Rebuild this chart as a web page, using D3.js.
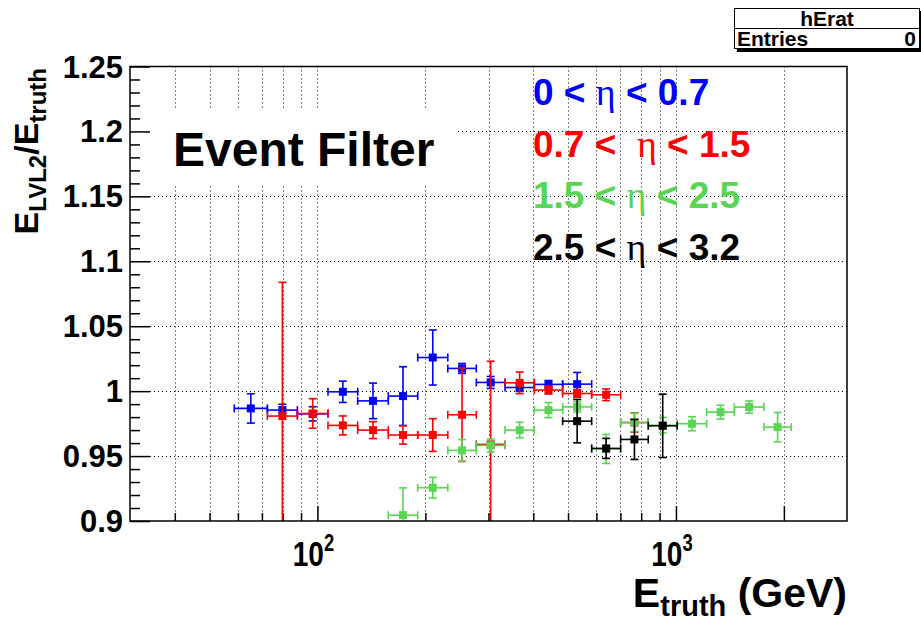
<!DOCTYPE html>
<html>
<head>
<meta charset="utf-8">
<script src="https://cdn.jsdelivr.net/npm/d3@7"></script>
<style>
  html, body { margin: 0; padding: 0; background: #fff; }
  svg { display: block; }
  text { font-family: "Liberation Sans", Arial, Helvetica, sans-serif; font-weight: bold; }
</style>
</head>
<body>
<svg id="chart" width="921" height="621"></svg>
<script>
// Energy bin edges (GeV), shared by all eta ranges
const binEdges = [58.6, 72.5, 87.9, 107, 129.5, 157.6, 190.4, 231, 277.4, 333.6,
                  402.7, 483, 582, 701, 837, 1008, 1218, 1455, 1760, 2097];

// 0 < eta < 0.7 : bins 0..11
const eta1FirstBin = 0;
const eta1Values = [0.9867, 0.9854, 0.9825, 0.9995, 0.9925, 0.9962, 1.0259, 1.0175, 1.0067, 1.0028, 1.0052, 1.0054];
const eta1Errors = [0.0113, 0.0045, 0.0055, 0.0082, 0.0137, 0.0226, 0.0212, 0.0038, 0.0046, 0.0030, 0.0030, 0.0090];

// 0.7 < eta < 1.5 : bins 1..13
const eta2FirstBin = 1;
const eta2Values = [0.9808, 0.9828, 0.9736, 0.9700, 0.9662, 0.9662, 0.9818, 0.9590, 1.0064, 1.0008, 0.9982, 0.9972, 0.9758];
const eta2Errors = [0.1030, 0.0114, 0.0073, 0.0065, 0.0070, 0.0126, 0.0360, 0.0640, 0.0083, 0.0030, 0.0030, 0.0045, 0.0074];

// 1.5 < eta < 2.5 : bins 5..18
const eta3FirstBin = 5;
const eta3Values = [0.9045, 0.9256, 0.9544, 0.9582, 0.9700, 0.9854, 0.9879, 0.9555, 0.9759, 0.9738, 0.9749, 0.9838, 0.9877, 0.9723];
const eta3Errors = [0.0210, 0.0080, 0.0083, 0.0050, 0.0060, 0.0058, 0.0040, 0.0112, 0.0070, 0.0060, 0.0054, 0.0053, 0.0047, 0.0113];

// 2.5 < eta < 3.2 : bins 11..14
const eta4FirstBin = 11;
const eta4Values = [0.9769, 0.9559, 0.9628, 0.9733];
const eta4Errors = [0.0167, 0.0077, 0.0154, 0.0244];

const seriesLabels = ["0 < ", "0.7 <  ", "1.5 < ", "2.5 < "];
const seriesLabelTails = [" < 0.7", " < 1.5", " < 2.5", " < 3.2"];
const seriesColors = ["#0000ff", "#ff0000", "#59d454", "#000000"];

const xDomain = [30, 3000];
const yDomain = [0.9, 1.25];
const yTickValues = [0.9, 0.95, 1.0, 1.05, 1.1, 1.15, 1.2, 1.25];
const yTickLabels = ["0.9", "0.95", "1", "1.05", "1.1", "1.15", "1.2", "1.25"];
const xMinorTicks = [40, 50, 60, 70, 80, 90, 200, 300, 400, 500, 600, 700, 800, 900];
const xMajorTicks = [100, 1000, 2000];
const xLabelTicks = [100, 1000];
const xLabelExponents = ["2", "3"];

const svg = d3.select("#chart");
const frame = { left: 130, right: 847, top: 66.5, bottom: 521 };

const x = d3.scaleLog().domain(xDomain).range([frame.left, frame.right]);
const y = d3.scaleLinear().domain(yDomain).range([frame.bottom, frame.top]);

svg.append("rect").attr("width", 921).attr("height", 621).attr("fill", "#fff");

svg.append("defs").append("clipPath").attr("id", "frameClip")
  .append("rect")
  .attr("x", frame.left).attr("y", frame.top)
  .attr("width", frame.right - frame.left).attr("height", frame.bottom - frame.top);

// dotted grid
const grid = svg.append("g").attr("stroke", "#000").attr("stroke-width", 1)
  .attr("stroke-dasharray", "1,3").attr("fill", "none");
xMinorTicks.concat(xMajorTicks).forEach(v => {
  const px = Math.round(x(v)) + 0.5;
  grid.append("line").attr("x1", px).attr("x2", px).attr("y1", frame.top).attr("y2", frame.bottom);
});
yTickValues.slice(1, -1).forEach(v => {
  const py = Math.round(y(v)) + 0.5;
  grid.append("line").attr("x1", frame.left).attr("x2", frame.right).attr("y1", py).attr("y2", py);
});

// white pave behind the title
svg.append("rect").attr("x", 133).attr("y", 110).attr("width", 324).attr("height", 75).attr("fill", "#fff");
svg.append("text").attr("x", 173).attr("y", 166).attr("font-size", 48).attr("fill", "#000").text("Event Filter");

// axis ticks, drawn with d3 axes and then pointed inwards
const yAxis = d3.axisLeft(y).tickValues(d3.range(0.9, 1.2501, 0.01)).tickSizeInner(-10).tickSizeOuter(0).tickFormat("");
const yAxisG = svg.append("g").attr("transform", `translate(${frame.left},0)`).call(yAxis);
yAxisG.select(".domain").remove();
yAxisG.selectAll(".tick line").attr("stroke", "#000").attr("stroke-width", 1.5)
  .attr("x2", d => (Math.abs(d * 20 - Math.round(d * 20)) < 1e-6) ? 20 : 10);

const xAxis = d3.axisBottom(x).tickValues(xMinorTicks.concat(xMajorTicks)).tickSizeInner(-8).tickSizeOuter(0).tickFormat("");
const xAxisG = svg.append("g").attr("transform", `translate(0,${frame.bottom})`).call(xAxis);
xAxisG.select(".domain").remove();
xAxisG.selectAll(".tick line").attr("stroke", "#000").attr("stroke-width", 1.5)
  .attr("y2", d => xMajorTicks.includes(d) ? -15 : -8);

// y tick labels
yTickValues.forEach((v, i) => {
  svg.append("text").attr("x", 123).attr("y", y(v) + 11).attr("text-anchor", "end")
    .attr("font-size", 31).attr("fill", "#000").text(yTickLabels[i]);
});

// x tick labels as powers of ten (condensed face)
xLabelTicks.forEach((v, i) => {
  const cx = x(v) - 4;
  const t = svg.append("text").attr("transform", `translate(${cx},566) scale(0.8,1)`)
    .attr("text-anchor", "middle").attr("font-size", 35).attr("fill", "#000");
  t.append("tspan").text("10");
  t.append("tspan").attr("font-size", 23).attr("dy", -15).text(xLabelExponents[i]);
});

// axis titles
const xt = svg.append("text").attr("x", frame.right).attr("y", 607).attr("text-anchor", "end")
  .attr("font-size", 41).attr("fill", "#000");
xt.append("tspan").text("E");
xt.append("tspan").attr("font-size", 29).attr("dy", 9).text("truth");
xt.append("tspan").attr("dy", -9).text(" (GeV)");

const yt = svg.append("text").attr("transform", `translate(38,68) rotate(-90)`).attr("text-anchor", "end")
  .attr("font-size", 34).attr("fill", "#000");
yt.append("tspan").text("E");
yt.append("tspan").attr("font-size", 24).attr("dy", 8).text("LVL2");
yt.append("tspan").attr("dy", -8).text("/E");
yt.append("tspan").attr("font-size", 24).attr("dy", 8).text("truth");

// data points with error bars
const series = [
  { first: eta1FirstBin, values: eta1Values, errors: eta1Errors },
  { first: eta2FirstBin, values: eta2Values, errors: eta2Errors },
  { first: eta3FirstBin, values: eta3Values, errors: eta3Errors },
  { first: eta4FirstBin, values: eta4Values, errors: eta4Errors }
];
const plot = svg.append("g").attr("clip-path", "url(#frameClip)");
series.forEach((s, si) => {
  const color = seriesColors[si];
  const pts = s.values.map((v, i) => {
    const b = s.first + i;
    const lo = binEdges[b], hi = binEdges[b + 1];
    return { lo, hi, c: Math.sqrt(lo * hi), v, e: s.errors[i] };
  });
  const g = plot.append("g").attr("stroke", color).attr("stroke-width", 1.6).attr("fill", "none");
  const pg = g.selectAll("g").data(pts).join("g");
  const cap = 4;
  pg.append("line").attr("x1", d => x(d.c)).attr("x2", d => x(d.c)).attr("y1", d => y(d.v - d.e)).attr("y2", d => y(d.v + d.e));
  pg.append("line").attr("x1", d => x(d.lo)).attr("x2", d => x(d.hi)).attr("y1", d => y(d.v)).attr("y2", d => y(d.v));
  pg.append("line").attr("x1", d => x(d.c) - cap).attr("x2", d => x(d.c) + cap).attr("y1", d => y(d.v + d.e)).attr("y2", d => y(d.v + d.e));
  pg.append("line").attr("x1", d => x(d.c) - cap).attr("x2", d => x(d.c) + cap).attr("y1", d => y(d.v - d.e)).attr("y2", d => y(d.v - d.e));
  pg.append("line").attr("x1", d => x(d.lo)).attr("x2", d => x(d.lo)).attr("y1", d => y(d.v) - cap).attr("y2", d => y(d.v) + cap);
  pg.append("line").attr("x1", d => x(d.hi)).attr("x2", d => x(d.hi)).attr("y1", d => y(d.v) - cap).attr("y2", d => y(d.v) + cap);
  pg.append("rect").attr("stroke", "none").attr("fill", color)
    .attr("x", d => x(d.c) - 4).attr("y", d => y(d.v) - 4).attr("width", 8).attr("height", 8);
});

// frame
svg.append("rect").attr("x", frame.left).attr("y", frame.top)
  .attr("width", frame.right - frame.left).attr("height", frame.bottom - frame.top)
  .attr("fill", "none").attr("stroke", "#000").attr("stroke-width", 1.5);

// eta range labels
const legendBaselines = [105, 157, 208, 260];
seriesLabels.forEach((lab, i) => {
  const t = svg.append("text").attr("x", 533).attr("y", legendBaselines[i]).attr("font-size", 37)
    .attr("fill", seriesColors[i]).style("white-space", "pre");
  t.append("tspan").text(lab);
  t.append("tspan").attr("font-family", "'Liberation Serif', 'Times New Roman', serif")
    .attr("font-weight", "normal").attr("font-size", 38).text("\u03b7");
  t.append("tspan").text(seriesLabelTails[i]);
});

// statistics box
const sb = { x: 734, y: 8, w: 186, h: 41 };
svg.append("rect").attr("x", sb.x + 3).attr("y", sb.y + 3).attr("width", sb.w).attr("height", sb.h).attr("fill", "#000");
svg.append("rect").attr("x", sb.x + 0.5).attr("y", sb.y + 0.5).attr("width", sb.w - 1).attr("height", sb.h - 1)
  .attr("fill", "#fff").attr("stroke", "#000").attr("stroke-width", 1);
svg.append("line").attr("x1", sb.x).attr("x2", sb.x + sb.w).attr("y1", sb.y + 20.5).attr("y2", sb.y + 20.5)
  .attr("stroke", "#000").attr("stroke-width", 1);
svg.append("text").attr("x", sb.x + sb.w / 2).attr("y", sb.y + 18).attr("text-anchor", "middle")
  .attr("font-size", 21).attr("fill", "#000").text("hErat");
svg.append("text").attr("x", sb.x + 3).attr("y", sb.y + 38).attr("font-size", 21).attr("fill", "#000").text("Entries");
svg.append("text").attr("x", sb.x + sb.w - 4).attr("y", sb.y + 38).attr("text-anchor", "end")
  .attr("font-size", 21).attr("fill", "#000").text("0");
</script>
</body>
</html>
